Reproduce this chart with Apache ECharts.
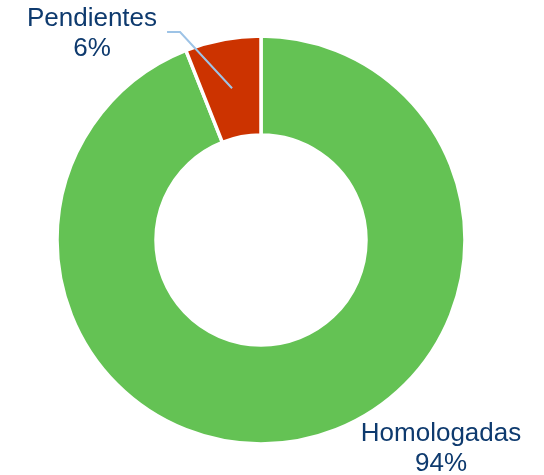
<!DOCTYPE html>
<html lang="es">
<head>
    <meta charset="UTF-8">
    <title>Homologadas vs Pendientes</title>
    <script src="https://cdn.jsdelivr.net/npm/echarts@6/dist/echarts.min.js"></script>
    <style>
        html, body {
            margin: 0;
            padding: 0;
            background: #ffffff;
        }

        #chart {
            width: 544px;
            height: 475px;
        }
    </style>
</head>
<body>
<div id="chart"></div>
<script>
    // datos del gráfico
    const categories = ['Homologadas', 'Pendientes'];
    const values = [94, 6];
    const colors = ['#64c254', '#cc3300'];

    // centro y radios del anillo (px)
    const cx = 261;
    const cy = 240;
    const rInner = 105;
    const rOuter = 204;

    // posición de cada etiqueta (centro del bloque de texto)
    const labelPos = [[441, 449], [92, 34]];

    const chart = echarts.init(document.getElementById('chart'));

    const ringData = categories.map(function (name, i) {
        return {name: name, value: values[i], itemStyle: {color: colors[i]}};
    });

    // serie transparente encima, solo para etiquetas y guía
    const labelData = categories.map(function (name, i) {
        return {name: name, value: values[i], labelLine: {show: i === 1}};
    });

    chart.setOption({
        animation: false,
        series: [{
            type: 'pie',
            z: 2,
            center: [cx, cy],
            radius: [rInner, rOuter],
            startAngle: 90,
            clockwise: true,
            silent: true,
            data: ringData,
            itemStyle: {
                borderColor: '#ffffff',
                borderWidth: 3.5
            },
            label: {show: false},
            labelLine: {show: false}
        }, {
            type: 'pie',
            z: 5,
            center: [cx, cy],
            radius: [rInner, rOuter],
            startAngle: 90,
            clockwise: true,
            silent: true,
            data: labelData,
            itemStyle: {
                color: 'rgba(0,0,0,0)',
                borderWidth: 0
            },
            label: {
                show: true,
                position: 'outside',
                formatter: '{b}\n{d}%',
                fontFamily: 'Liberation Sans, Arial, sans-serif',
                fontSize: 26,
                lineHeight: 30,
                color: '#0e3a6e',
                align: 'center'
            },
            labelLine: {
                show: true,
                length: 10,
                length2: 12,
                lineStyle: {color: '#9dc3e6', width: 2}
            },
            labelLayout: function (params) {
                const pos = labelPos[params.dataIndex];
                const out = {
                    x: pos[0],
                    y: pos[1],
                    align: 'center',
                    verticalAlign: 'middle'
                };
                if (params.dataIndex === 1 && params.labelLinePoints) {
                    // la guía arranca a mitad del anillo
                    const p = params.labelLinePoints[0];
                    const k = (rInner + rOuter) / 2 / rOuter;
                    const start = [cx + (p[0] - cx) * k, cy + (p[1] - cy) * k];
                    const w = params.labelRect.width;
                    const endX = pos[0] + w / 2 + 10;
                    out.labelLinePoints = [start, [endX + 13, pos[1] - 2], [endX, pos[1] - 2]];
                }
                return out;
            }
        }]
    });
</script>
</body>
</html>
